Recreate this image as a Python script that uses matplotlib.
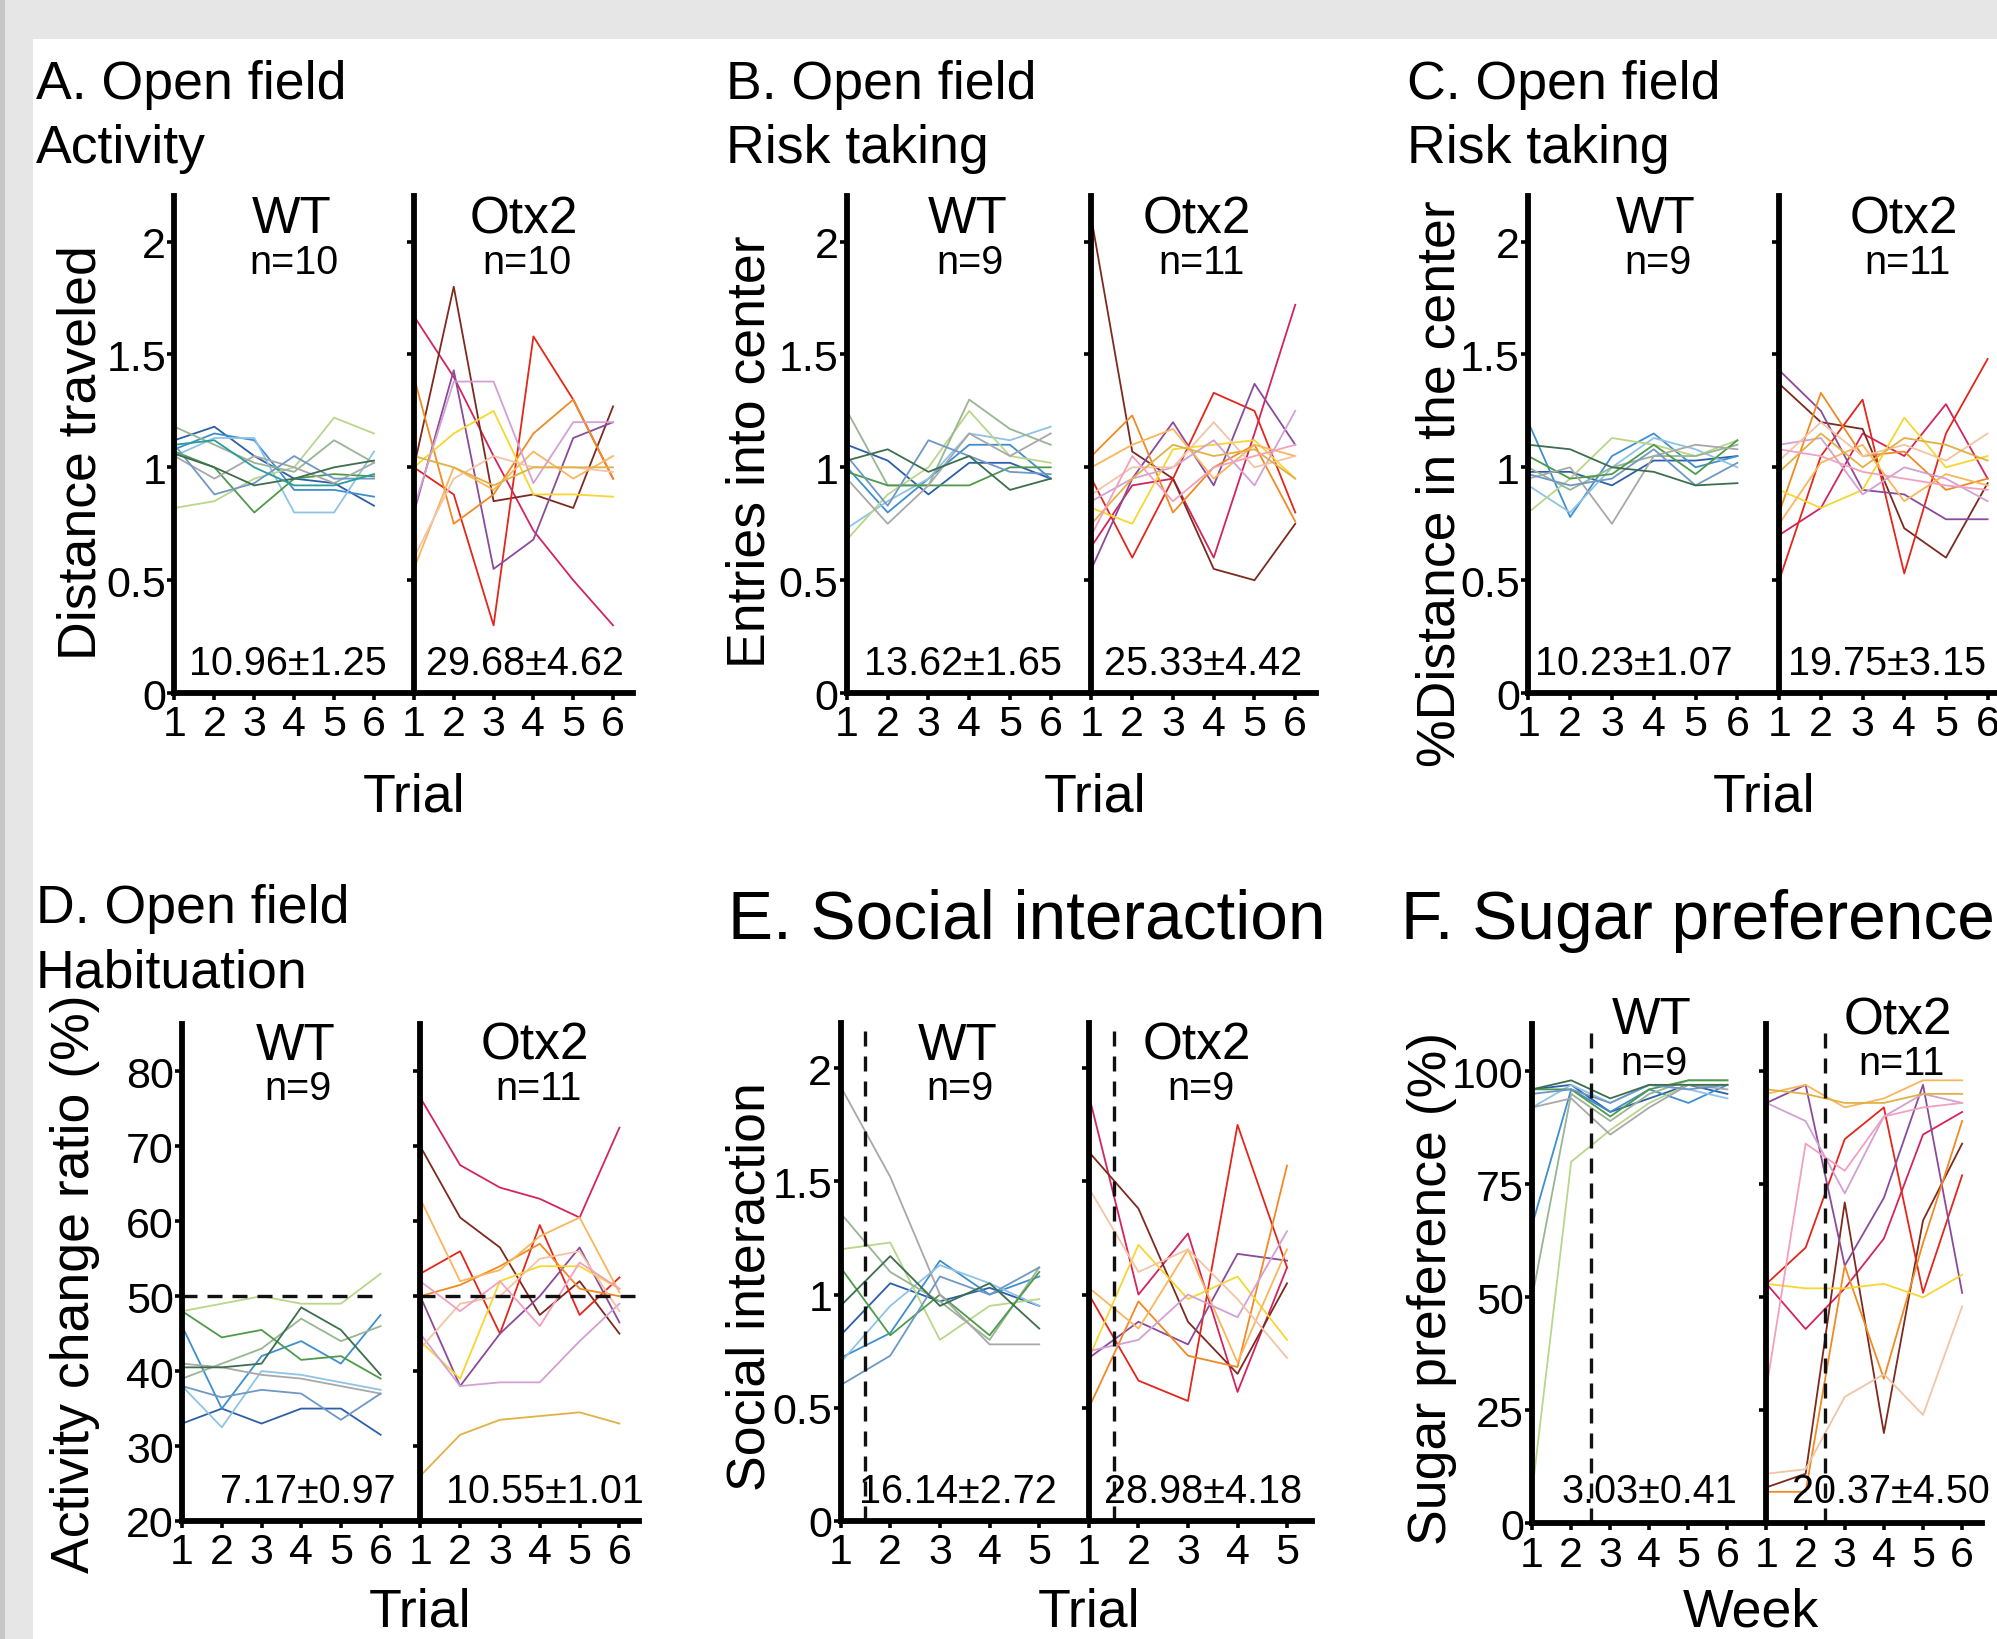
"""
Six-panel behaviour figure: WT vs Otx2 individual traces per trial/week.
"""
import matplotlib
matplotlib.use("Agg")
import matplotlib.pyplot as plt
from matplotlib import font_manager
from matplotlib.patches import Rectangle

# ---------------------------------------------------------------- data
TRIALS6 = [1, 2, 3, 4, 5, 6]
TRIALS5 = [1, 2, 3, 4, 5]

# A. Open field activity (distance traveled, normalised)
A_WT = [
    [1.12, 1.18, 1.05, 0.95, 0.93, 0.83],
    [1.08, 1.15, 1.12, 0.90, 0.90, 0.87],
    [1.05, 1.13, 1.13, 0.80, 0.80, 1.07],
    [0.82, 0.85, 0.95, 1.00, 1.22, 1.15],
    [1.18, 1.10, 1.02, 0.98, 1.12, 1.02],
    [1.07, 1.00, 0.80, 0.95, 0.97, 0.96],
    [1.05, 0.95, 1.05, 1.00, 0.93, 1.02],
    [1.10, 0.88, 0.93, 1.05, 0.95, 0.95],
    [1.06, 1.00, 0.92, 0.95, 1.00, 1.03],
    [1.10, 1.12, 1.00, 0.92, 0.92, 0.97],
]
A_OTX = [
    [1.67, 1.40, 1.05, 0.72, 0.50, 0.30],
    [1.00, 1.80, 0.85, 0.88, 0.82, 1.27],
    [1.00, 0.88, 0.30, 1.58, 1.30, 0.95],
    [0.80, 1.43, 0.55, 0.68, 1.13, 1.20],
    [1.40, 0.75, 0.88, 1.15, 1.30, 0.95],
    [1.00, 1.15, 1.25, 0.88, 0.88, 0.87],
    [0.55, 1.00, 0.90, 1.07, 0.95, 1.05],
    [0.82, 1.38, 1.38, 0.93, 1.20, 1.20],
    [0.60, 0.95, 1.05, 1.00, 1.00, 0.98],
    [1.05, 1.00, 0.92, 1.00, 1.00, 1.00],
]

# B. Entries into center
B_WT = [
    [1.10, 1.03, 0.88, 1.02, 1.02, 0.95],
    [1.00, 0.80, 0.95, 1.10, 1.10, 0.95],
    [0.73, 0.85, 0.95, 1.15, 1.12, 1.18],
    [0.68, 0.88, 1.00, 1.25, 1.05, 1.02],
    [1.25, 0.92, 0.92, 1.30, 1.17, 1.10],
    [0.98, 0.92, 0.92, 0.92, 1.00, 1.00],
    [0.95, 0.75, 0.92, 1.15, 1.05, 1.15],
    [1.05, 0.83, 1.12, 1.05, 0.98, 0.97],
    [1.03, 1.08, 0.98, 1.05, 0.90, 0.95],
]
B_OTX = [
    [0.65, 0.92, 0.95, 0.60, 1.15, 1.72],
    [2.10, 1.07, 0.95, 0.55, 0.50, 0.75],
    [0.95, 0.60, 0.95, 1.33, 1.25, 0.80],
    [0.55, 0.95, 1.20, 0.92, 1.37, 1.10],
    [1.05, 1.23, 0.80, 1.00, 1.10, 0.76],
    [0.82, 0.75, 1.08, 1.10, 1.12, 0.95],
    [1.00, 1.10, 1.17, 0.95, 1.10, 1.05],
    [0.85, 0.95, 1.00, 1.12, 0.92, 1.25],
    [0.88, 1.00, 1.00, 1.20, 1.00, 1.05],
    [0.75, 0.95, 1.10, 1.05, 1.08, 0.95],
    [0.70, 1.05, 0.85, 1.00, 1.05, 1.10],
]

# C. % distance in the center
C_WT = [
    [0.98, 0.98, 0.92, 1.03, 1.03, 1.05],
    [1.20, 0.78, 1.05, 1.15, 1.00, 1.05],
    [0.92, 0.80, 1.00, 1.13, 1.08, 1.00],
    [0.80, 0.95, 1.13, 1.10, 1.05, 1.12],
    [1.00, 0.90, 1.00, 1.05, 1.05, 1.10],
    [1.05, 0.95, 0.97, 1.10, 0.97, 1.12],
    [0.95, 1.00, 0.75, 1.05, 1.10, 1.08],
    [0.97, 0.92, 0.95, 1.08, 0.92, 1.02],
    [1.10, 1.08, 1.00, 0.98, 0.92, 0.93],
]
C_OTX = [
    [0.70, 0.82, 1.15, 1.05, 1.28, 0.95],
    [1.37, 1.20, 1.17, 0.73, 0.60, 0.93],
    [0.50, 1.05, 1.30, 0.53, 1.15, 1.48],
    [1.43, 1.25, 0.90, 0.88, 0.77, 0.77],
    [0.80, 1.33, 1.05, 1.07, 0.90, 0.95],
    [0.90, 0.82, 0.90, 1.22, 1.00, 1.05],
    [0.75, 1.02, 1.10, 0.85, 0.97, 0.92],
    [1.10, 1.13, 0.88, 1.00, 0.95, 0.85],
    [1.03, 1.20, 1.05, 1.10, 1.03, 1.15],
    [0.98, 1.15, 1.00, 1.13, 1.10, 1.03],
    [1.08, 1.05, 0.98, 0.95, 0.92, 0.90],
]

# D. Habituation, activity change ratio (%)
D_WT = [
    [33, 35, 33, 35, 35, 31.5],
    [46, 35, 42, 44, 41, 47.5],
    [38, 32.5, 40, 39.5, 38.5, 37.5],
    [48, 49, 50, 49, 49, 53],
    [39, 41, 43, 47, 44, 46],
    [48, 44.5, 45.5, 41.5, 42, 39],
    [41, 40.5, 39.5, 39, 38, 37],
    [38, 36.5, 37.5, 37, 33.5, 37],
    [40.5, 40.5, 41, 48.5, 45.5, 39.5],
]
D_OTX = [
    [76.5, 67.5, 64.5, 63, 60.5, 72.5],
    [70, 60.5, 56.5, 47.5, 52, 45],
    [53, 56, 45, 59.5, 47.5, 52.5],
    [50, 38, 45, 50, 56.5, 46.5],
    [50, 51.5, 54, 57, 51, 50],
    [44, 39, 52, 54, 54, 51],
    [63, 52, 53.5, 58, 60.5, 50.5],
    [45, 38, 38.5, 38.5, 44, 49],
    [43, 49, 50, 55, 56, 48],
    [26, 31.5, 33.5, 34, 34.5, 33],
    [52, 48, 52, 46, 54.5, 51],
]
D_REF = 50

# E. Social interaction (5 trials)
E_WT = [
    [0.82, 1.05, 0.97, 1.03, 0.95],
    [0.72, 0.83, 1.15, 1.00, 1.08],
    [0.70, 0.95, 1.13, 1.05, 0.95],
    [1.20, 1.23, 0.80, 0.95, 0.98],
    [1.36, 1.10, 0.97, 0.80, 1.12],
    [1.12, 0.82, 1.00, 0.82, 1.10],
    [1.92, 1.52, 1.00, 0.78, 0.78],
    [0.60, 0.73, 1.08, 1.00, 1.12],
    [0.95, 1.17, 0.95, 1.05, 0.85],
]
E_OTX = [
    [1.88, 1.00, 1.27, 0.57, 1.12],
    [1.63, 1.38, 0.88, 0.65, 1.05],
    [1.00, 0.62, 0.53, 1.75, 1.12],
    [0.72, 0.88, 0.78, 1.18, 1.15],
    [0.50, 0.97, 0.73, 0.68, 1.57],
    [0.72, 1.22, 0.98, 1.08, 0.80],
    [1.03, 0.85, 1.20, 0.70, 1.20],
    [0.75, 0.80, 1.00, 0.90, 1.28],
    [1.47, 1.10, 1.20, 0.98, 0.72],
]
E_SPLIT = 1.5

# F. Sugar preference (%) per week
F_WT = [
    [96, 97, 91, 94, 97, 95],
    [66, 96, 91, 96, 93, 97],
    [92, 97, 93, 97, 96, 94],
    [7, 80, 87, 93, 97, 97],
    [50, 95, 89, 95, 98, 98],
    [96, 96, 90, 96, 98, 98],
    [92, 94, 86, 92, 97, 96],
    [95, 96, 93, 97, 96, 97],
    [96, 98, 94, 97, 97, 97],
]
F_OTX = [
    [53, 43, 52, 63, 86, 91],
    [8, 11, 71, 20, 67, 84],
    [53, 61, 85, 92, 51, 77],
    [93, 97, 57, 72, 97, 51],
    [7, 7, 57, 32, 62, 89],
    [53, 52, 52, 53, 50, 55],
    [95, 97, 92, 94, 98, 98],
    [93, 89, 73, 90, 95, 93],
    [11, 12, 28, 33, 24, 48],
    [96, 95, 93, 93, 95, 95],
    [30, 84, 78, 90, 92, 93],
]
F_SPLIT = 2.5

ANNOT = {
    "A": ("10.96±1.25", "29.68±4.62"),
    "B": ("13.62±1.65", "25.33±4.42"),
    "C": ("10.23±1.07", "19.75±3.15"),
    "D": ("7.17±0.97", "10.55±1.01"),
    "E": ("16.14±2.72", "28.98±4.18"),
    "F": ("3.03±0.41", "20.37±4.50"),
}
N_LABELS = {
    "A": ("n=10", "n=10"), "B": ("n=9", "n=11"), "C": ("n=9", "n=11"),
    "D": ("n=9", "n=11"), "E": ("n=9", "n=9"), "F": ("n=9", "n=11"),
}

WT_COLORS = ["#2c5fa8", "#3f8fcf", "#8fc3e6", "#b9d68a", "#98b594",
             "#4f9a4a", "#a8a8a8", "#6f98c6", "#3d6e4e", "#2b9c9c"]
OTX_COLORS = ["#d2245f", "#7d2a1e", "#e3261b", "#8b4a9a", "#f08a24",
              "#f7d631", "#f9b65c", "#d3a0d3", "#f3c4a4", "#e1b144", "#f2a0c0"]

# ---------------------------------------------------------------- fonts
names = {f.name for f in font_manager.fontManager.ttflist}
NARROW = "Liberation Sans Narrow" in names
plt.rcParams["font.family"] = ["Liberation Sans Narrow" if NARROW else "Liberation Sans", "DejaVu Sans"]
K = 1.0 if NARROW else 0.84

TITLE, BIG, GROUP, NSZ, ANN, YLAB, XLAB = [s * K for s in (46, 58, 44, 34, 34, 46, 46)]
TICK = 31

# ---------------------------------------------------------------- layout
W, H = 1997, 1640
S = W / 1568  # positions below are measured on a 1568 px wide copy

fig = plt.figure(figsize=(W / 100, H / 100), dpi=100, facecolor="#e6e6e6")
fig.add_artist(Rectangle((0, 0), 5 / W, 1, transform=fig.transFigure,
                         facecolor="#c6c6c6", edgecolor="none", zorder=0))
fig.add_artist(Rectangle((33 / W, 0), 1, 1 - 40 / H, transform=fig.transFigure,
                         facecolor="white", edgecolor="none", zorder=0))


def rect(x0, y0, x1, y1):
    return [x0 * S / W, 1 - y1 * S / H, (x1 - x0) * S / W, (y1 - y0) * S / H]


def ftext(x, y, s, size, **kw):
    kw.setdefault("va", "baseline")
    fig.text(x * S / W, 1 - y * S / H, s, fontsize=size, **kw)


def style(ax, ylim, yticks, ylabels, xmax, ticks):
    ax.set_facecolor("none")
    for side in ("top", "right"):
        ax.spines[side].set_visible(False)
    for side in ("left", "bottom"):
        ax.spines[side].set_linewidth(4.2)
    ax.set_xlim(1, xmax)
    ax.set_ylim(*ylim)
    ax.set_xticks(ticks)
    ax.set_xticklabels([str(t) for t in ticks])
    ax.set_yticks(yticks)
    ax.set_yticklabels(ylabels)
    ax.tick_params(axis="both", direction="out", length=5, width=2.6, labelsize=TICK)
    ax.tick_params(axis="y", pad=1)
    ax.tick_params(axis="x", pad=3)


def panel(box, xmax, ticks, ylim, yticks, ylabels, wt, otx):
    x0, xm, x1, y0, y1 = box
    ax_wt = fig.add_axes(rect(x0, y0, xm, y1))
    ax_ot = fig.add_axes(rect(xm, y0, x1, y1))
    for row, c in zip(wt, WT_COLORS):
        ax_wt.plot(ticks, row, color=c, lw=1.3)
    for row, c in zip(otx, OTX_COLORS):
        ax_ot.plot(ticks, row, color=c, lw=1.3)
    style(ax_wt, ylim, yticks, ylabels, xmax[0], ticks)
    style(ax_ot, ylim, yticks, [""] * len(yticks), xmax[1], ticks)
    return ax_wt, ax_ot


RATIO_T = [0, 0.5, 1, 1.5, 2]
RATIO_L = ["0", "0.5", "1", "1.5", "2"]

axA = panel((137, 325, 497, 155, 545), (7, 6.5), TRIALS6, (0, 2.2), RATIO_T, RATIO_L, A_WT, A_OTX)
axB = panel((665, 857, 1033, 155, 545), (7, 6.5), TRIALS6, (0, 2.2), RATIO_T, RATIO_L, B_WT, B_OTX)
axC = panel((1200, 1397, 1577, 155, 545), (7, 6.5), TRIALS6, (0, 2.2), RATIO_T, RATIO_L, C_WT, C_OTX)
axD = panel((143, 330, 502, 805, 1195), (7, 6.5), TRIALS6, (20, 86.3),
            [20, 30, 40, 50, 60, 70, 80], ["20", "30", "40", "50", "60", "70", "80"], D_WT, D_OTX)
axE = panel((660, 855, 1030, 804, 1195), (6, 5.5), TRIALS5, (0, 2.2), RATIO_T, RATIO_L, E_WT, E_OTX)
axF = panel((1203, 1387, 1556, 805, 1197), (7, 6.5), TRIALS6, (0, 110.4),
            [0, 25, 50, 75, 100], ["0", "25", "50", "75", "100"], F_WT, F_OTX)

dash = dict(color="#111111", lw=2.4, ls=(0, (4.5, 3)))
axD[0].hlines(D_REF, 1, 6, **dash)
axD[1].hlines(D_REF, 1, 6.5, **dash)
for ax in axE:
    ax.axvline(E_SPLIT, **dash)
for ax in axF:
    ax.axvline(F_SPLIT, **dash)

# ---------------------------------------------------------------- text
ftext(28, 78, "A. Open field", TITLE)
ftext(28, 128, "Activity", TITLE)
ftext(570, 78, "B. Open field", TITLE)
ftext(570, 128, "Risk taking", TITLE)
ftext(1105, 78, "C. Open field", TITLE)
ftext(1105, 128, "Risk taking", TITLE)
ftext(28, 725, "D. Open field", TITLE)
ftext(28, 775, "Habituation", TITLE)
ftext(572, 737, "E. Social interaction", BIG)
ftext(1100, 737, "F. Sugar preference", BIG)

# group names / n, (wt x, otx x, name baseline)
GROUP_POS = {
    "A": (229, 411, 183), "B": (760, 940, 183), "C": (1300, 1495, 183),
    "D": (232, 420, 832), "E": (752, 940, 832), "F": (1297, 1490, 812),
}
for key, (xw, xo, yb) in GROUP_POS.items():
    ftext(xw, yb, "WT", GROUP, ha="center")
    ftext(xo, yb, "Otx2", GROUP, ha="center")
    ftext(xw + 2, yb + 32, N_LABELS[key][0], NSZ, ha="center")
    ftext(xo + 3, yb + 32, N_LABELS[key][1], NSZ, ha="center")

ANN_POS = {
    "A": (226, 412, 530), "B": (756, 945, 530), "C": (1283, 1482, 530),
    "D": (242, 428, 1180), "E": (752, 945, 1180), "F": (1295, 1485, 1180),
}
for key, (xw, xo, yb) in ANN_POS.items():
    ftext(xw, yb, ANNOT[key][0], ANN, ha="center")
    ftext(xo, yb, ANNOT[key][1], ANN, ha="center")

YLAB_POS = [
    (75, 355, "Distance traveled"),
    (600, 355, "Entries into center"),
    (1142, 380, "%Distance in the center"),
    (70, 1008, "Activity change ratio (%)"),
    (600, 1010, "Social interaction"),
    (1135, 1012, "Sugar preference (%)"),
]
for x, y, s in YLAB_POS:
    fig.text(x * S / W, 1 - y * S / H, s, fontsize=YLAB, rotation=90,
             rotation_mode="anchor", ha="center", va="baseline")

ftext(325, 637, "Trial", XLAB, ha="center")
ftext(860, 637, "Trial", XLAB, ha="center")
ftext(1385, 637, "Trial", XLAB, ha="center")
ftext(330, 1277, "Trial", XLAB, ha="center")
ftext(855, 1277, "Trial", XLAB, ha="center")
ftext(1375, 1277, "Week", XLAB, ha="center")

fig.savefig("out.png", dpi=100, facecolor=fig.get_facecolor())
